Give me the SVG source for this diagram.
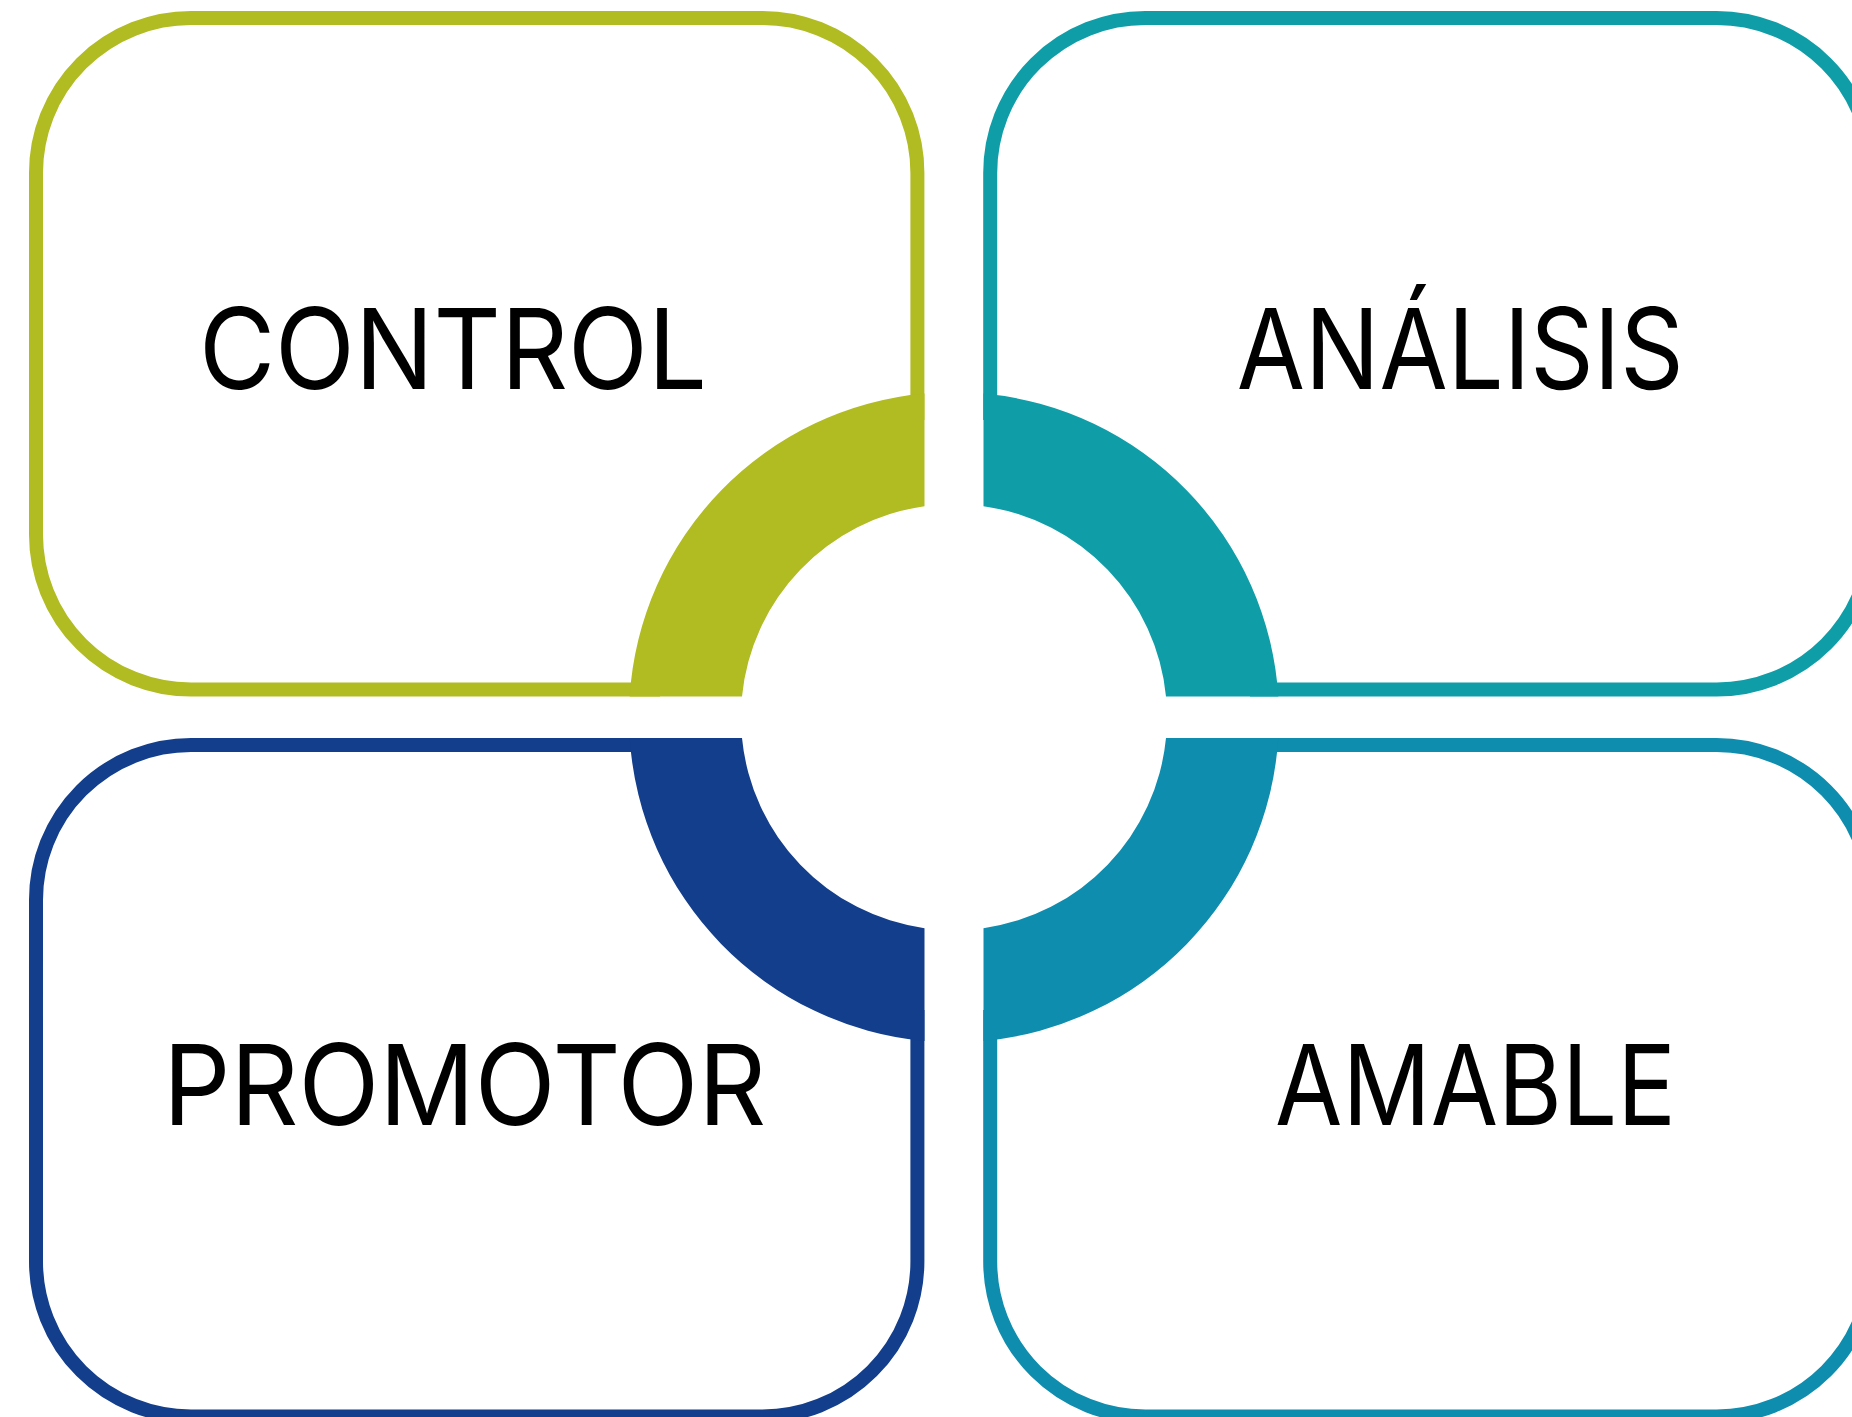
<svg xmlns="http://www.w3.org/2000/svg" width="1852" height="1417" viewBox="0 0 1852 1417">
<style>
.box{fill:none;stroke-width:14}
.lbl{font-family:Inter,"Noto Sans","Liberation Sans",sans-serif;font-size:112px;fill:#000}
</style>
<rect width="1852" height="1417" fill="#fff"/>
<g id="control">
<path class="box" d="M917.4,420 V173 A155,155 0 0 0 762.4,18 H191 A155,155 0 0 0 36,173 V534.5 A155,155 0 0 0 191,689.5 H660" stroke="#B1BB22"/>
<path d="M924.5,393.5 A325,325 0 0 0 629.7,696.4 L742,696.4 A213,213 0 0 1 924.5,506.25 Z" fill="#B1BB22"/>
<text class="lbl" x="198.9" y="388.5" textLength="508" lengthAdjust="spacingAndGlyphs">CONTROL</text>
</g>
<g id="analisis">
<path class="box" d="M990.2,420 V173 A155,155 0 0 1 1145.2,18 H1716.6 A155,155 0 0 1 1871.6,173 V534.5 A155,155 0 0 1 1716.6,689.5 H1250" stroke="#0F9EA8"/>
<path d="M983.5,393.5 A325,325 0 0 1 1278.3,696.4 L1166,696.4 A213,213 0 0 0 983.5,506.25 Z" fill="#0F9EA8"/>
<text class="lbl" x="1236.7" y="388.5" textLength="447" lengthAdjust="spacingAndGlyphs">ANÁLISIS</text>
</g>
<g id="promotor">
<path class="box" d="M917.4,1010 V1261.5 A155,155 0 0 1 762.4,1416.5 H191 A155,155 0 0 1 36,1261.5 V900 A155,155 0 0 1 191,745 H660" stroke="#133E8B"/>
<path d="M924.5,1040.9 A325,325 0 0 1 629.7,738 L742,738 A213,213 0 0 0 924.5,928.15 Z" fill="#133E8B"/>
<text class="lbl" x="162.9" y="1125" textLength="603.5" lengthAdjust="spacingAndGlyphs">PROMOTOR</text>
</g>
<g id="amable">
<path class="box" d="M990.2,1010 V1261.5 A155,155 0 0 0 1145.2,1416.5 H1716.6 A155,155 0 0 0 1871.6,1261.5 V900 A155,155 0 0 0 1716.6,745 H1250" stroke="#0E8DAE"/>
<path d="M983.5,1040.9 A325,325 0 0 0 1278.3,738 L1166,738 A213,213 0 0 1 983.5,928.15 Z" fill="#0E8DAE"/>
<text class="lbl" x="1275" y="1125" textLength="401" lengthAdjust="spacingAndGlyphs">AMABLE</text>
</g>
<g id="connectors"></g>
</svg>
